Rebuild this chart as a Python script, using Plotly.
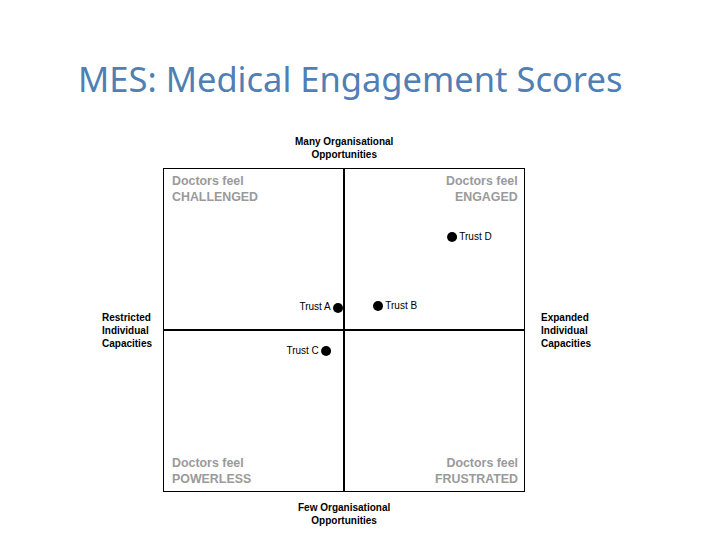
import plotly.graph_objects as go

trusts = ["Trust A", "Trust B", "Trust C", "Trust D"]
x_vals = [-0.033, 0.188, -0.099, 0.597]
y_vals = [0.136, 0.148, -0.130, 0.574]
text_pos = ["middle left", "middle right", "middle left", "middle right"]

quad_labels = [
    ("Doctors feel<br>CHALLENGED", -1, 1, "left", "top"),
    ("Doctors feel<br>ENGAGED", 1, 1, "right", "top"),
    ("Doctors feel<br>POWERLESS", -1, -1, "left", "bottom"),
    ("Doctors feel<br>FRUSTRATED", 1, -1, "right", "bottom"),
]

fig = go.Figure()
fig.add_trace(go.Scatter(
    x=x_vals, y=y_vals, mode="markers+text", text=trusts,
    textposition=text_pos,
    marker=dict(color="black", size=10),
    textfont=dict(family="Liberation Sans", size=10, color="black"),
    cliponaxis=False, showlegend=False, hoverinfo="skip",
))

# midlines
fig.add_shape(type="line", x0=0, x1=0, y0=-1, y1=1, xref="x", yref="y",
              line=dict(color="black", width=2))
fig.add_shape(type="line", x0=-1, x1=1, y0=0, y1=0, xref="x", yref="y",
              line=dict(color="black", width=2))
fig.add_shape(type="rect", x0=-1, x1=1, y0=-1, y1=1, xref="x", yref="y",
              line=dict(color="black", width=2))

for txt, x, y, xa, ya in quad_labels:
    fig.add_annotation(x=x, y=y, text="<b>" + txt + "</b>", showarrow=False,
                       xanchor=xa, yanchor=ya, align=xa,
                       xshift=7 if xa == "left" else -5,
                       yshift=-4 if ya == "top" else 4,
                       font=dict(family="Liberation Sans", size=12.4, color="#9a9a9a"))

axis_font = dict(family="Liberation Sans", size=10, color="black")
fig.add_annotation(x=0, y=1, text="<b>Many Organisational<br>Opportunities</b>",
                   showarrow=False, yanchor="bottom", yshift=6, font=axis_font)
fig.add_annotation(x=0, y=-1, text="<b>Few Organisational<br>Opportunities</b>",
                   showarrow=False, yanchor="top", yshift=-8, font=axis_font)
fig.add_annotation(x=-1, y=0, text="<b>Restricted<br>Individual<br>Capacities</b>",
                   showarrow=False, xanchor="left", align="left", xshift=-63,
                   font=axis_font)
fig.add_annotation(x=1, y=0, text="<b>Expanded<br>Individual<br>Capacities</b>",
                   showarrow=False, xanchor="left", align="left", xshift=14,
                   font=axis_font)

fig.add_annotation(xref="paper", yref="paper", x=-0.24, y=1.0, yshift=90,
                   text="MES: Medical Engagement Scores", showarrow=False,
                   xanchor="left", yanchor="middle",
                   font=dict(family="Noto Sans", size=34.5, color="#4f7fb5"))

fig.update_xaxes(range=[-1, 1], visible=False, fixedrange=True)
fig.update_yaxes(range=[-1, 1], visible=False, fixedrange=True)
fig.update_layout(width=720, height=540, margin=dict(l=155, r=203, t=160, b=56),
                  plot_bgcolor="white", paper_bgcolor="white")
fig.write_html("out.html")
